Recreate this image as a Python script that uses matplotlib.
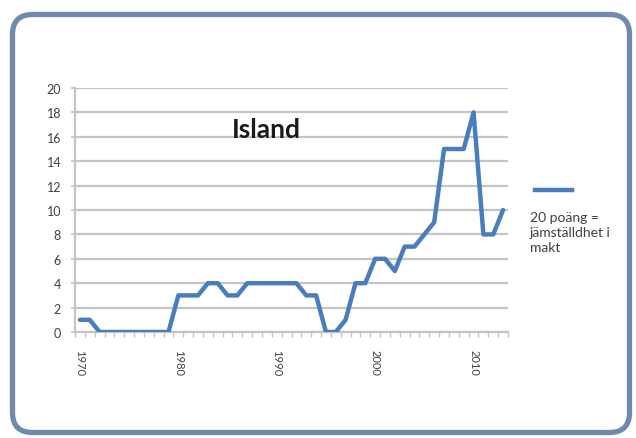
import numpy as np
import matplotlib.pyplot as plt
from matplotlib.patches import FancyBboxPatch
from matplotlib.lines import Line2D

plt.rcParams['font.family'] = ['Lato', 'DejaVu Sans']

# Island, 1970-2013
years = list(range(1970, 2014))
values = [1, 1, 0, 0, 0, 0, 0, 0, 0, 0,
          3, 3, 3, 4, 4, 3, 3, 4, 4, 4,
          4, 4, 4, 3, 3, 0, 0, 1, 4, 4,
          6, 6, 5, 7, 7, 8, 9, 15, 15, 15,
          18, 8, 8, 10]
label_years = [1970, 1980, 1990, 2000, 2010]
title = "Island"
legend_text = "20 poäng =\njämställdhet i\nmakt"

line_col = '#4a7dbb'
grid_col = '#c4c4c4'
text_col = '#404040'

fig = plt.figure(figsize=(6.36, 4.39), dpi=100)
fig.patch.set_facecolor('white')

# rounded outer frame (inch coords so corners stay round)
frame = FancyBboxPatch((0.125, 0.055), 6.17, 4.18,
                       boxstyle="round,pad=0,rounding_size=0.2",
                       transform=fig.dpi_scale_trans,
                       facecolor='white', edgecolor='#7089ad', linewidth=3.8,
                       zorder=-1)
fig.patches.append(frame)

ax = fig.add_axes([75 / 636, 1 - 333 / 439, 433 / 636, 244 / 439])
ax.set_zorder(2)
ax.set_facecolor('none')
ax.plot(years, values, color=line_col, lw=3.2, solid_joinstyle='round',
        solid_capstyle='round', zorder=3)

ax.set_xlim(years[0] - 0.5, years[-1] + 0.5)
ax.set_ylim(0, 20)
ax.set_yticks(np.arange(0, 21, 2))
ax.yaxis.grid(True, color=grid_col, lw=1.6)
ax.set_axisbelow(True)

ax.set_xticks(label_years)
ax.set_xticklabels([str(y) for y in label_years], rotation=270)
ax.set_xticks(np.arange(years[0] - 0.5, years[-1] + 1, 1), minor=True)
ax.tick_params(axis='x', which='major', length=0, pad=12, labelsize=8,
               labelcolor=text_col)
ax.tick_params(axis='x', which='minor', length=3.5, width=1, color=grid_col)
ax.tick_params(axis='y', length=3, width=1.2, color=grid_col, pad=7,
               labelsize=9, labelcolor=text_col)

for s in ['top', 'right']:
    ax.spines[s].set_visible(False)
for s in ['left', 'bottom']:
    ax.spines[s].set_color(grid_col)
    ax.spines[s].set_linewidth(1.6)

fig.text(266 / 636, 1 - 130 / 439, title, ha='center', va='center',
         fontsize=19, fontweight='bold', color='#1a1a1a', zorder=3)

# legend, line above the wrapped text
fig.add_artist(Line2D([535 / 636, 572 / 636], [1 - 191 / 439, 1 - 191 / 439],
                      transform=fig.transFigure, color=line_col, lw=3.2))
fig.text(530 / 636, 1 - 212 / 439, legend_text, ha='left', va='top',
         fontsize=10, color=text_col, linespacing=1.3)

fig.savefig('out.png', dpi=100, facecolor='white')
